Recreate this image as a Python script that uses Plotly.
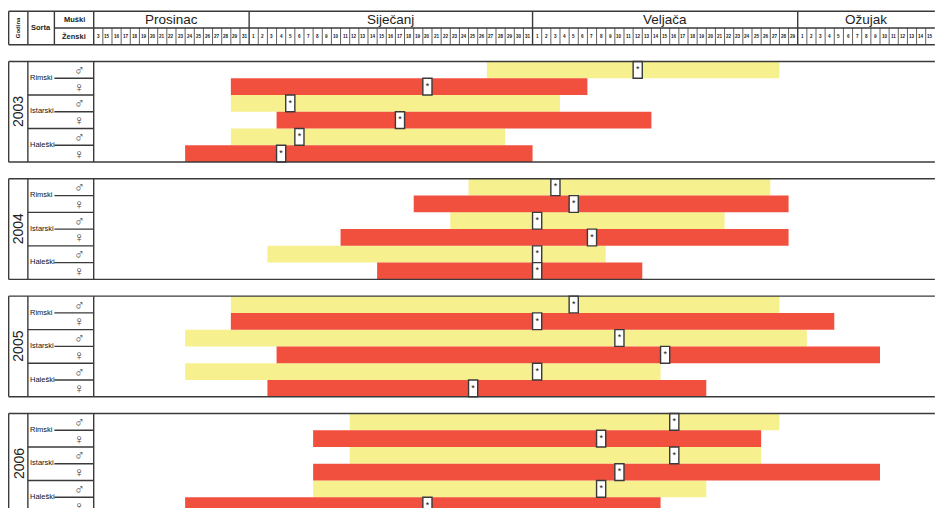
import plotly.graph_objects as go

# ---------- data (days counted from the first column of the table) ----------
years = ["2003", "2004", "2005", "2006"]
sorts = ["Rimski", "Istarski", "Haleški"]
months = ["Prosinac", "Siječanj", "Veljača", "Ožujak"]
month_lengths = [17, 31, 29, 15]
dec_labels = ["3"] + [str(d) for d in range(15, 30)] + ["31"]
jan_labels = [str(d) for d in range(1, 32)]
feb_labels = [str(d) for d in range(1, 30)]
mar_labels = [str(d) for d in range(1, 16)]

male_start = [43, 15, 15, 41, 39, 19, 15, 10, 10, 28, 28, 24]
male_end = [75, 51, 45, 74, 69, 56, 75, 78, 62, 75, 73, 67]
male_mark = [59, 21, 22, 50, 48, 48, 52, 57, 48, 63, 63, 55]

female_start = [15, 20, 10, 35, 27, 31, 15, 20, 19, 24, 24, 10]
female_end = [54, 61, 48, 76, 76, 60, 81, 86, 67, 73, 86, 62]
female_mark = [36, 33, 20, 52, 54, 48, 48, 62, 41, 55, 57, 36]

# ---------- styling / geometry ----------
YELLOW, RED, INK = "#F6F08E", "#F2503F", "#3a3a3a"
FONT = "Liberation Sans"
DAY_PX, ROW_PX = 9.143, 16.76
LEFT_PX, TOP_PX = 93.7, 61.5
W, H = 935, 508
COL_OUTER, COL_YEAR, COL_SEX_H, COL_BODY = -9.3, -7.2, -4.3, 0.0
SEX_LINE = -4.3
LABEL_X = -7.15
SYMBOL_X = -1.6


def rows_for(offset):
    out = []
    for p in range(len(years)):
        for s in range(len(sorts)):
            out.append(p * 7 + s * 2 + offset + 0.5)
    return out


male_rows = rows_for(0)
female_rows = rows_for(1)

fig = go.Figure()
fig.add_trace(go.Bar(y=male_rows, x=[e - s for s, e in zip(male_start, male_end)], base=male_start,
                     orientation="h", width=1, marker=dict(color=YELLOW, line=dict(width=0)), name="Muški"))
fig.add_trace(go.Bar(y=female_rows, x=[e - s for s, e in zip(female_start, female_end)], base=female_start,
                     orientation="h", width=1, marker=dict(color=RED, line=dict(width=0)), name="Ženski"))
all_marks = male_mark + female_mark
all_rows = male_rows + female_rows
fig.add_trace(go.Bar(y=all_rows, x=[1] * len(all_marks), base=all_marks, orientation="h", width=1,
                     marker=dict(color="white", line=dict(color=INK, width=1.4)), name="Datum"))
fig.add_trace(go.Scatter(x=[m + 0.5 for m in all_marks], y=all_rows, mode="text", text=["*"] * len(all_marks),
                         textposition="middle center", textfont=dict(family=FONT, size=9, color="#111")))

shapes, ann = [], []


def line(x0, y0, x1, y1, w=1.4):
    shapes.append(dict(type="line", xref="x", yref="y", x0=x0, y0=y0, x1=x1, y1=y1,
                       line=dict(color=INK, width=w), layer="above"))


def text(x, y, s, size, bold=False, angle=0, color="#222", xanchor="center"):
    label = f"<b>{s}</b>" if bold else s
    ann.append(dict(x=x, y=y, xref="x", yref="y", text=label, showarrow=False, textangle=angle,
                    xanchor=xanchor, yanchor="middle", font=dict(family=FONT, size=size, color=color)))


# header table
x_max = sum(month_lengths)
line(COL_OUTER, -3, x_max, -3)
line(COL_OUTER, -1, x_max, -1)
line(COL_SEX_H, -2, x_max, -2)
for xv in (COL_OUTER, COL_YEAR, COL_SEX_H):
    line(xv, -3, xv, -1)
text((COL_OUTER + COL_YEAR) / 2, -2, "Godina", 6, bold=True, angle=-90)
text((COL_YEAR + COL_SEX_H) / 2, -2, "Sorta", 7.5, bold=True)
text(COL_SEX_H / 2, -2.5, "Muški", 7.5, bold=True)
text(COL_SEX_H / 2, -1.5, "Ženski", 7.5, bold=True)

pos = 0
labels = [dec_labels, jan_labels, feb_labels, mar_labels]
for name, n, labs in zip(months, month_lengths, labels):
    line(pos, -3, pos, -1, 1.4)
    text(pos + n / 2, -2.5, name, 13.5)
    for i, lab in enumerate(labs):
        text(pos + i + 0.5, -1.5, lab, 4.6, bold=True)
        if i:
            line(pos + i, -2, pos + i, -1, 0.8)
    pos += n

# year panels
for p, yr in enumerate(years):
    t = p * 7
    b = t + 6
    line(COL_OUTER, t, x_max, t)
    line(COL_OUTER, b, x_max, b)
    for xv in (COL_OUTER, COL_YEAR, COL_BODY):
        line(xv, t, xv, b)
    text((COL_OUTER + COL_YEAR) / 2, t + 3, yr, 14, angle=-90)
    for s, sort in enumerate(sorts):
        mid = t + s * 2 + 1
        line(SEX_LINE, mid, COL_BODY, mid)
        if s:
            line(COL_YEAR, mid - 1, COL_BODY, mid - 1)
        text(LABEL_X, mid - 0.05, sort, 7.5, color="#111", xanchor="left")
        text(SYMBOL_X, mid - 0.5, "♂", 14, color="#444")
        text(SYMBOL_X, mid + 0.5, "♀", 14, color="#444")

fig.update_layout(
    width=W, height=H, autosize=False, margin=dict(l=0, r=0, t=0, b=0),
    paper_bgcolor="white", plot_bgcolor="white", showlegend=False, barmode="overlay",
    xaxis=dict(range=[-LEFT_PX / DAY_PX, (W - LEFT_PX) / DAY_PX], visible=False, fixedrange=True),
    yaxis=dict(range=[(H - TOP_PX) / ROW_PX, -TOP_PX / ROW_PX], visible=False, fixedrange=True),
    shapes=shapes, annotations=ann,
)
fig.write_html("out.html", config={"displayModeBar": False},
               post_script="document.body.style.margin='0';")
